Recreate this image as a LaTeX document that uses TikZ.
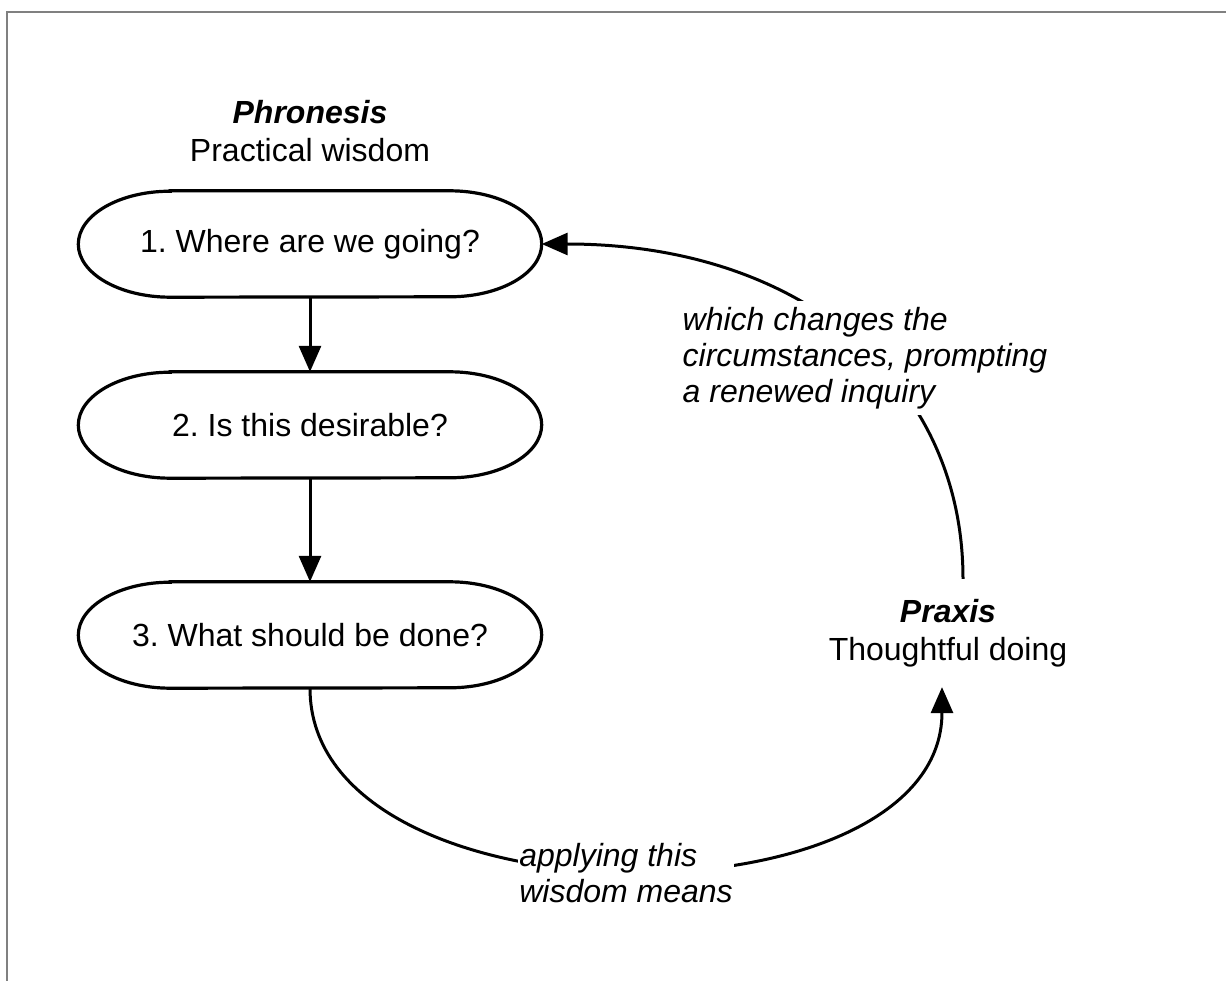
\documentclass[tikz,border=0pt]{standalone}
\usepackage{fontspec}
\setmainfont{Liberation Sans}
\usetikzlibrary{arrows.meta}
\frenchspacing
\begin{document}
\begin{tikzpicture}[x=1pt,y=1pt,
  txt/.style={font=\fontsize{32}{38}\selectfont, align=center, inner sep=0pt},
  qbox/.style={txt, minimum width=463pt, minimum height=106pt},
  pill/.style={line width=3.2pt},
  flow/.style={line width=3pt, -{Triangle[length=26pt,width=22pt]}},
  lab/.style={font=\fontsize{32}{36}\selectfont\itshape, align=left, fill=white,
              inner xsep=1pt, inner ysep=6pt},
  frame/.style={draw=gray, line width=2.2pt}
]
\useasboundingbox (0,0) rectangle (1226,-981);
\draw[frame] (7,-981) -- (7,-12) -- (1226,-12);

% headings
\node[txt] (ph) at (310,-131) {\textbf{\textit{Phronesis}}\\Practical wisdom};
\node[txt, inner ysep=20pt] (px) at (948,-633) {\textbf{\textit{Praxis}}\\Thoughtful doing};

% the three questions
\node[qbox] (q1) at (310,-244) {1. Where are we going?};
\node[qbox] (q2) at (310,-425) {2. Is this desirable?};
\node[qbox] (q3) at (310,-635) {3. What should be done?};
\foreach \n in {q1,q2,q3}
  \draw[pill] ([xshift=92pt]\n.north west) -- ([xshift=-92pt]\n.north east)
    arc[start angle=90,end angle=-90,x radius=92pt,y radius=53pt]
    -- ([xshift=92pt]\n.south west)
    arc[start angle=270,end angle=90,x radius=92pt,y radius=53pt] -- cycle;

\draw[flow] (q1) -- (q2);
\draw[flow] (q2) -- (q3);

% the cycle between wisdom and doing
\draw[flow] (q3.south) .. controls (310,-930) and (942,-930) .. ([xshift=-6pt]px.south);
\draw[flow] ([xshift=15pt]px.north) .. controls (963,-380) and (800,-244) .. (q1.east);

\node[lab] (l1) at (865,-358) {which changes the\\circumstances, prompting\\a renewed inquiry};
\node[lab] (l2) at (626,-873) {applying this\\wisdom means};
\end{tikzpicture}
\end{document}
